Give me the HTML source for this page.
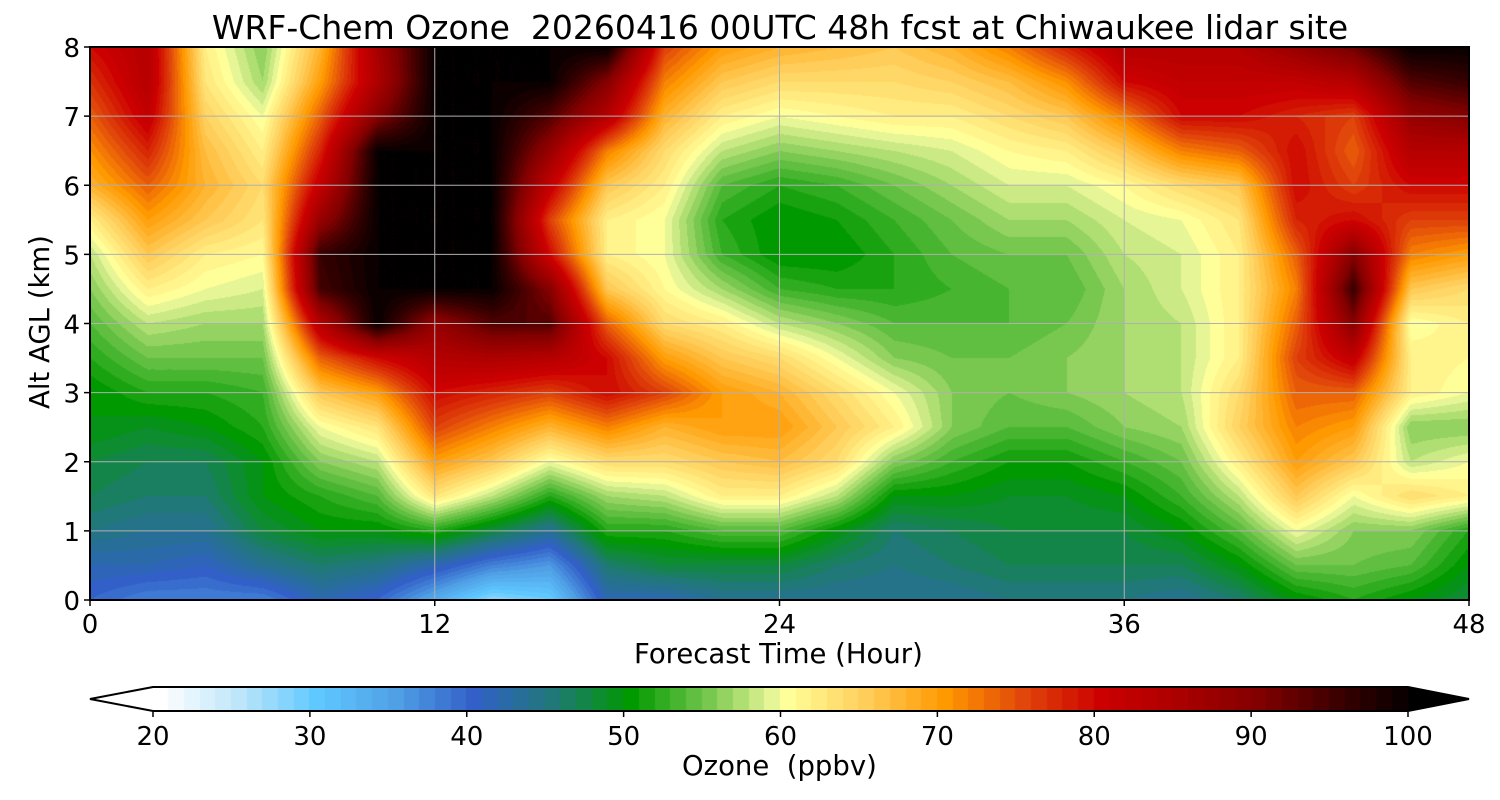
<!DOCTYPE html>
<html><head><meta charset="utf-8">
<style>
body{margin:0;background:#fff;font-family:"DejaVu Sans","Liberation Sans",sans-serif;}
#wrap{position:relative;width:1500px;height:800px;overflow:hidden;}
.t{position:absolute;color:#000;white-space:nowrap;}
</style></head>
<body>
<div id="wrap">
<div class="t" style="left:0;width:1560px;text-align:center;top:8px;font-size:33px;">WRF-Chem Ozone&nbsp; 20260416 00UTC 48h fcst at Chiwaukee lidar site</div>
<canvas id="cv" width="1379" height="553" style="position:absolute;left:90px;top:47px;"></canvas>
<canvas id="cb" width="1255" height="24" style="position:absolute;left:153px;top:687px;"></canvas>
<svg id="ov" width="1500" height="800" style="position:absolute;left:0;top:0;"></svg>
<div class="t" style="left:634px;top:638px;font-size:27.5px;">Forecast Time (Hour)</div>
<div class="t" style="left:-60px;top:306px;font-size:27.5px;transform:rotate(-90deg);width:200px;text-align:center;">Alt AGL (km)</div>
<div class="t" style="left:682px;top:750px;font-size:27.5px;">Ozone&nbsp; (ppbv)</div>
</div>
<script>
const hours=[0,2,4,6,8,10,12,14,16,18,20,22,24,26,28,30,32,34,36,38,40,42,44,46,48];
const alts=[0,0.5,1,1.5,2,2.5,3,3.5,4,4.5,5,5.5,6,6.5,7,7.5,8];
const c00=[40,42,45,47,48,50,50,52,54,56,58,62,68,71,74,77,80];
const c02=[38,42,44,46,47,49,52,55,58,62,66,70,74,78,82,84,84];
const c04=[38,41,44,46,47,50,52,55,57,60,62,66,68,67,65,63,62];
const c06=[38,44,48,50,50,52,53,55,57,59,61,63,64,62,60,57,56];
const c08=[42,46,50,52,56,60,66,74,84,95,96,88,82,78,74,70,68];
const c10=[40,45,50,54,58,63,70,80,100,100,100,100,100,100,90,85,86];
const c12=[34,42,52,63,70,76,80,84,88,100,100,100,100,100,100,100,100];
const c14=[28,38,48,58,66,72,78,85,94,100,100,100,100,100,100,100,100];
const c16=[30,36,44,52,60,68,76,84,94,90,80,76,82,88,94,100,100];
const c18=[42,46,52,57,64,72,80,80,74,66,62,62,66,72,84,90,100];
const c20=[42,48,52,58,64,68,76,70,64,61,60,60,62,64,68,72,76];
const c22=[44,48,54,62,66,70,70,66,62,57,53,52,54,58,62,66,70];
const c24=[44,48,54,62,67,70,68,64,58,53,50,50,52,56,60,64,68];
const c26=[44,46,50,58,64,66,64,60,56,52,50,51,53,57,61,64,67];
const c28=[44,45,46,50,56,62,60,56,54,52,52,53,55,58,62,64,66];
const c30=[44,46,47,50,53,56,56,55,54,53,54,55,57,59,62,65,68];
const c32=[45,47,48,49,51,54,55,55,54,54,55,57,59,61,64,67,72];
const c34=[45,47,48,49,51,54,56,56,55,54,55,57,59,62,66,71,78];
const c36=[45,47,48,50,53,56,57,57,57,57,58,59,61,66,72,80,84];
const c38=[44,47,50,53,55,57,58,58,58,59,59,60,64,72,80,82,84];
const c40=[46,50,54,58,62,65,64,62,62,62,62,63,66,74,80,82,84];
const c42=[50,55,60,66,70,72,74,76,74,72,74,78,80,80,78,82,88];
const c44=[52,55,56,60,66,70,74,82,90,96,90,80,76,74,76,84,92];
const c46=[50,54,56,64,58,56,62,62,60,66,72,76,80,84,88,94,100];
const c48=[48,50,52,62,60,56,60,61,62,64,70,76,80,84,90,96,100];
const ozone=[c00,c02,c04,c06,c08,c10,c12,c14,c16,c18,c20,c22,c24,c26,c28,c30,c32,c34,c36,c38,c40,c42,c44,c46,c48];
const xTicks=[0,12,24,36,48];
const yTicks=[0,1,2,3,4,5,6,7,8];
const cbTicks=[20,30,40,50,60,70,80,90,100];

const stops=[[20,[255,255,255]],[25,[190,230,250]],[30,[95,200,255]],[35,[80,160,230]],[40,[50,96,200]],[45,[32,120,120]],[50,[0,153,0]],[55,[120,200,80]],[59,[230,245,150]],[60,[255,255,153]],[65,[255,205,90]],[70,[255,153,0]],[75,[225,70,10]],[80,[204,0,0]],[85,[170,0,0]],[90,[130,0,0]],[95,[60,0,0]],[100,[0,0,0]]];
function cmap(v){v=Math.max(20,Math.min(100,Math.floor(v)));
 for(let i=0;i<stops.length-1;i++){const a=stops[i],b=stops[i+1];if(v<=b[0]){const f=(v-a[0])/(b[0]-a[0]);return a[1].map((c,k)=>Math.round(c+(b[1][k]-c)*f));}}
 return [0,0,0];}
const X0=90,X1=1469,Y0=600,Y1=47;
const xs=h=>X0+(h-0)/48*(X1-X0);
const ys=a=>Y0-a/8*(Y0-Y1);
const cv=document.getElementById('cv'),ctx=cv.getContext('2d');
const W=cv.width,H=cv.height,img=ctx.createImageData(W,H);
for(let py=0;py<H;py++){const a=(H-1-py)/(H-1)*8;let j=Math.min(alts.length-2,Math.floor(a/0.5));const fy=(a-alts[j])/0.5;
 for(let px=0;px<W;px++){const h=px/(W-1)*48;let i=Math.min(hours.length-2,Math.floor(h/2));const fx=(h-hours[i])/2;
  const v=ozone[i][j]*(1-fx)*(1-fy)+ozone[i+1][j]*fx*(1-fy)+ozone[i][j+1]*(1-fx)*fy+ozone[i+1][j+1]*fx*fy;
  const c=cmap(v),o=(py*W+px)*4;img.data[o]=c[0];img.data[o+1]=c[1];img.data[o+2]=c[2];img.data[o+3]=255;}}
ctx.putImageData(img,0,0);
const cb=document.getElementById('cb'),cx=cb.getContext('2d');
for(let v=20;v<100;v++){const c=cmap(v);cx.fillStyle=`rgb(${c})`;const x0=(v-20)/80*1255;cx.fillRect(Math.floor(x0),0,Math.ceil(1255/80)+1,24);}
const NS='http://www.w3.org/2000/svg',ov=document.getElementById('ov');
function mk(tag,at,txt){const e=document.createElementNS(NS,tag);for(const k in at)e.setAttribute(k,at[k]);if(txt!=null)e.textContent=txt;ov.appendChild(e);return e;}
const FF='DejaVu Sans,Liberation Sans,sans-serif';
xTicks.forEach(h=>{const x=xs(h);
 const g=mk('line',{x1:x,x2:x,y1:Y1,y2:Y0,stroke:'#b0b0b0','stroke-width':1});
 
 
 mk('line',{x1:x,x2:x,y1:Y0,y2:Y0+6,stroke:'#000','stroke-width':1.5});
 const t=mk('text',{x:x,y:633,'text-anchor':'middle','font-size':26,'font-family':FF},String(h));
 
 });
yTicks.forEach(a=>{const y=ys(a);
 const g=mk('line',{x1:X0,x2:X1,y1:y,y2:y,stroke:'#b0b0b0','stroke-width':1});
 
 
 mk('line',{x1:X0-6,x2:X0,y1:y,y2:y,stroke:'#000','stroke-width':1.5});
 const t=mk('text',{x:80,y:y+10,'text-anchor':'end','font-size':26,'font-family':FF},String(a));
 
 });
mk('rect',{x:X0,y:Y1,width:X1-X0,height:Y0-Y1,fill:'none',stroke:'#000','stroke-width':2});
mk('polygon',{points:'153,687 90,699 153,711',fill:'#fff'});
mk('polygon',{points:'1408,687 1469,699 1408,711',fill:'#000'});
mk('polygon',{points:'90,699 153,687 1408,687 1469,699 1408,711 153,711',fill:'none',stroke:'#000','stroke-width':2});
cbTicks.forEach(v=>{const x=153+(v-20)/80*1255;
 mk('line',{x1:x,x2:x,y1:711,y2:717,stroke:'#000','stroke-width':1.5});
 const t=mk('text',{x:x,y:745,'text-anchor':'middle','font-size':26,'font-family':FF},String(v));
 
 });
</script>
</body></html>
